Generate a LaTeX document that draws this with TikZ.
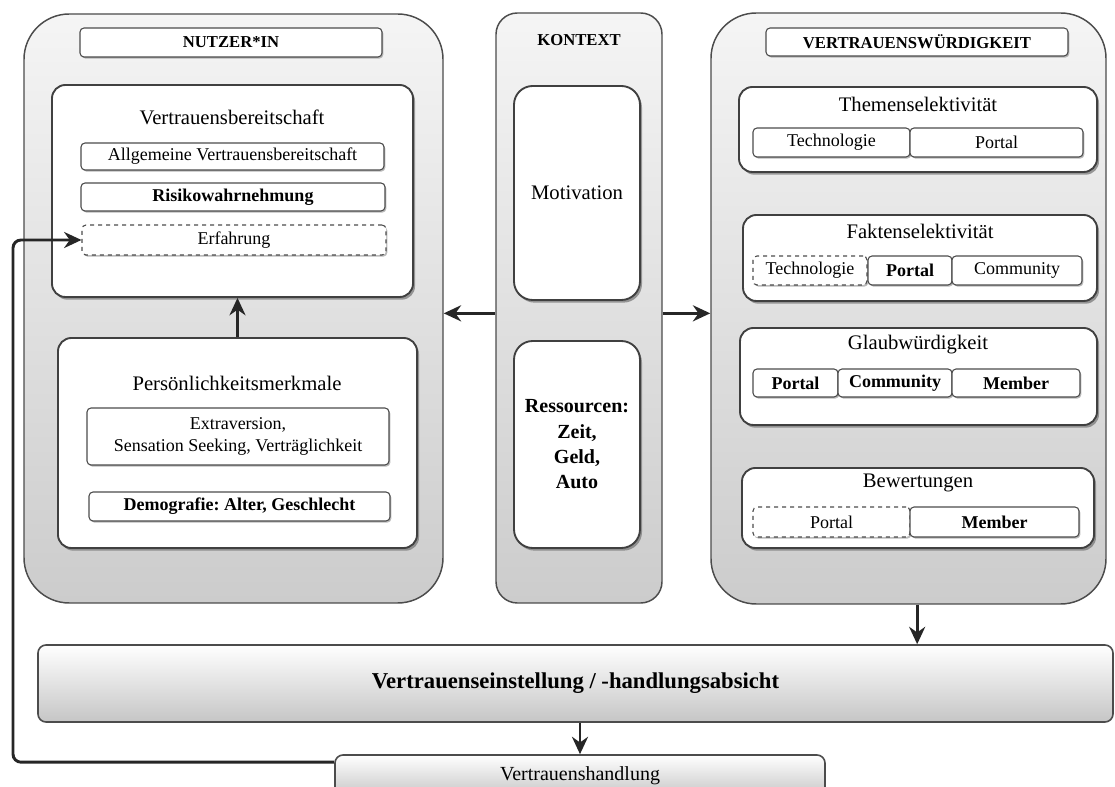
\documentclass[tikz,border=0pt]{standalone}
\usepackage{fontspec}
\setmainfont{Liberation Serif}
\usetikzlibrary{calc,shadows,arrows.meta}
\frenchspacing
\newcommand\ttlf{\fontsize{15.5}{18}\selectfont}
\newcommand\subf{\fontsize{13.5}{17}\selectfont}
\newcommand\subbf{\fontsize{13.5}{17}\selectfont\bfseries}
\newcommand\hdf{\fontsize{12.5}{15}\selectfont\bfseries}
\newcommand\ressf{\fontsize{15}{19}\selectfont\bfseries}
\newcommand\barf{\fontsize{17}{20}\selectfont\bfseries}
\newcommand\handf{\fontsize{15}{18}\selectfont}
\begin{document}
\begin{tikzpicture}[x=0.75pt,y=-0.75pt,
  rect/.style n args={4}{minimum width={(#3-#1)*0.75pt}, minimum height={(#4-#2)*0.75pt},
    at={({(#1+#3)/2},{(#2+#4)/2})}},
  cont/.style={draw=black!70, line width=1.1pt, top color=gray!8, bottom color=gray!40, inner sep=0pt},
  inbox/.style={draw=black!75, line width=1.4pt, fill=white, rounded corners=10pt, inner sep=0pt,
    drop shadow={shadow xshift=1.5pt, shadow yshift=-2pt, fill=black!55, opacity=0.7}},
  subbox/.style={draw=black!70, line width=0.8pt, fill=white, rounded corners=3pt, inner sep=0pt, font=\subf,
    drop shadow={shadow xshift=1pt, shadow yshift=-1.2pt, fill=black!45, opacity=0.6}},
  dsub/.style={subbox, dashed},
  hbox/.style={subbox, font=\hdf},
  ttl/.style={font=\ttlf, inner sep=1pt},
  bar/.style={draw=black!70, line width=1.2pt, rounded corners=6pt, top color=white, bottom color=gray!45, inner sep=0pt},
  arr/.style={line width=2.2pt, draw=black!85, -{Stealth[length=13pt, width=12pt]}}]
\clip (0,0) rectangle (1115,787);
\fill[white] (0,0) rectangle (1115,787);

% containers
\node[cont, rounded corners=34pt, rect={24}{14}{443}{603}] (nutzer) {};
\node[cont, rounded corners=16pt, rect={496}{13}{662}{603}] (kontext) {};
\node[cont, rounded corners=34pt, rect={711}{13}{1106}{604}] (vw) {};

% Nutzer*in
\node[hbox, rect={80}{28}{382}{57}] (nutzerT) {NUTZER*IN};
\node[inbox, rect={52}{85}{413}{297}] (vb) {};
\node[ttl] (vbT) at (232,117) {Vertrauensbereitschaft};
\node[subbox, rect={81}{143}{384}{170}] (allg) {Allgemeine Vertrauensbereitschaft};
\node[subbox, font=\subbf, rect={81}{183}{385}{211}] (risk) {Risikowahrnehmung};
\node[dsub, rect={82}{225}{386}{255}] (erf) {Erfahrung};
\node[inbox, rect={58}{338}{417}{548}] (pm) {};
\node[ttl] (pmT) at (237,383) {Persönlichkeitsmerkmale};
\node[subbox, align=center, rect={87}{408}{389}{465}] (extra) {Extraversion,\\Sensation Seeking, Verträglichkeit};
\node[subbox, font=\subbf, rect={89}{492}{390}{521}] (demo) {Demografie: Alter, Geschlecht};

% Kontext
\node[font=\hdf] (kT) at (579,40) {KONTEXT};
\node[inbox, rounded corners=14pt, font=\ttlf, rect={514}{86}{640}{300}] (motiv) {Motivation};
\node[inbox, rounded corners=14pt, font=\ressf, align=center, rect={514}{341}{640}{548}] (ress) {Ressourcen:\\Zeit,\\Geld,\\Auto};

% Vertrauenswuerdigkeit
\node[hbox, rect={766}{28}{1068}{56}] (vwT) {VERTRAUENSWÜRDIGKEIT};
\node[inbox, rect={739}{87}{1097}{172}] (them) {};
\node[ttl] (themT) at (918,104) {Themenselektivität};
\node[subbox, rect={753}{128}{910}{157}] (th1) {Technologie};
\node[subbox, rect={910}{128}{1083}{157}] (th2) {Portal};
\node[inbox, rect={743}{215}{1097}{301}] (fak) {};
\node[ttl] (fakT) at (920,231) {Faktenselektivität};
\node[dsub, rect={753}{256}{867}{285}] (fa1) {Technologie};
\node[subbox, font=\subbf, rect={868}{256}{952}{285}] (fa2) {Portal};
\node[subbox, rect={952}{256}{1082}{285}] (fa3) {Community};
\node[inbox, rect={740}{328}{1097}{425}] (gl) {};
\node[ttl] (glT) at (918,345) {Glaubwürdigkeit};
\node[subbox, font=\subbf, rect={753}{369}{838}{397}] (gl1) {Portal};
\node[subbox, font=\subbf, rect={838}{369}{952}{397}] (gl2) {Community};
\node[subbox, font=\subbf, rect={952}{369}{1080}{397}] (gl3) {Member};
\node[inbox, rect={742}{468}{1094}{548}] (bew) {};
\node[ttl] (bewT) at (918,483) {Bewertungen};
\node[dsub, rect={753}{507}{910}{537}] (bw1) {Portal};
\node[subbox, font=\subbf, rect={910}{507}{1079}{537}] (bw2) {Member};

% bottom bars
\node[bar, font=\barf, rect={38}{645}{1113}{722}] (bar) {Vertrauenseinstellung / -handlungsabsicht};
\node[bar, font=\handf, rect={335}{755}{825}{797}] (hand) {Vertrauenshandlung};

% arrows
\draw[arr] (pm.north) -- (pm.north |- vb.south);
\draw[arr] ([yshift=-4pt]kontext.west) -- ([yshift=-4pt]kontext.west -| nutzer.east);
\draw[arr] ([yshift=-4pt]kontext.east) -- ([yshift=-4pt]kontext.east -| vw.west);
\draw[arr] ([xshift=6.5pt]vw.south) -- ([xshift=6.5pt]vw.south |- bar.north);
\draw[arr] (hand.north |- bar.south) -- (hand.north);
\coordinate (fbx) at (13,0);
\draw[arr, rounded corners=6pt] ([yshift=-6pt]hand.north west) -| (fbx |- erf.west) -- (erf.west);
\end{tikzpicture}
\end{document}
